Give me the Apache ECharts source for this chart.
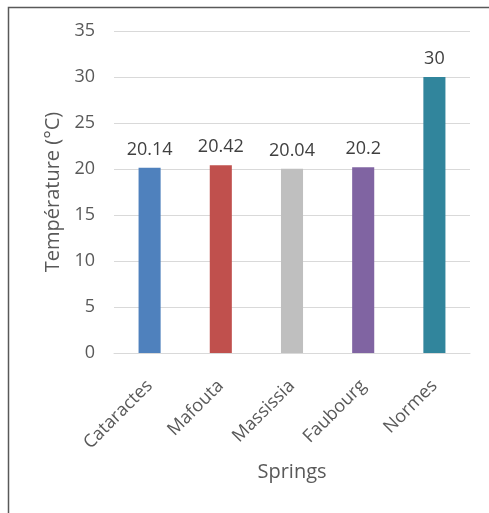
<!DOCTYPE html>
<html>
<head>
<meta charset="utf-8">
<script src="https://cdn.jsdelivr.net/npm/echarts@6/dist/echarts.min.js"></script>
<style>
  html, body { margin: 0; padding: 0; background: #fff; }
  #chart { width: 489px; height: 513px; }
</style>
</head>
<body>
<div id="chart"></div>
<script>
// Mean water temperature per spring, with the reference norm
const springs = ['Cataractes', 'Mafouta', 'Massissia', 'Faubourg', 'Normes'];
const temperatures = [20.14, 20.42, 20.04, 20.2, 30];
const barColors = ['#4F81BD', '#C0504D', '#BFBFBF', '#8064A2', '#31859C'];

const font = '"Open Sans", "Noto Sans", sans-serif';
const textColor = '#595959';

const chart = echarts.init(document.getElementById('chart'), null, { renderer: 'canvas' });
chart.setOption({
  backgroundColor: '#fff',
  animation: false,
  graphic: [{
    type: 'rect',
    left: 6, top: 5,
    shape: { width: 600, height: 600 },
    style: { fill: 'none', stroke: '#595959', lineWidth: 1.5 },
    silent: true
  }],
  grid: { left: 114, right: 19, top: 31, bottom: 160, containLabel: false },
  xAxis: {
    type: 'category',
    data: springs,
    name: 'Springs',
    nameLocation: 'middle',
    nameGap: 109,
    nameTextStyle: { fontFamily: font, fontSize: 20, color: textColor },
    axisLine: { lineStyle: { color: '#D9D9D9', width: 1 } },
    axisTick: { show: false },
    axisLabel: {
      rotate: 45, margin: 30, interval: 0,
      fontFamily: font, fontSize: 18, color: textColor
    }
  },
  yAxis: {
    type: 'value',
    min: 0, max: 35, interval: 5,
    name: 'Température (°C)',
    nameLocation: 'middle',
    nameGap: 47,
    nameTextStyle: { fontFamily: font, fontSize: 20, color: textColor },
    axisLine: { show: false },
    axisTick: { show: false },
    axisLabel: { margin: 19, fontFamily: font, fontSize: 18, color: textColor },
    splitLine: { lineStyle: { color: '#D9D9D9', width: 1 } }
  },
  series: [{
    type: 'bar',
    data: temperatures.map((v, i) => ({ value: v, itemStyle: { color: barColors[i] } })),
    barWidth: '31%',
    label: {
      show: true, position: 'top', distance: 9,
      fontFamily: font, fontSize: 18, color: '#404040'
    }
  }]
});
</script>
</body>
</html>
